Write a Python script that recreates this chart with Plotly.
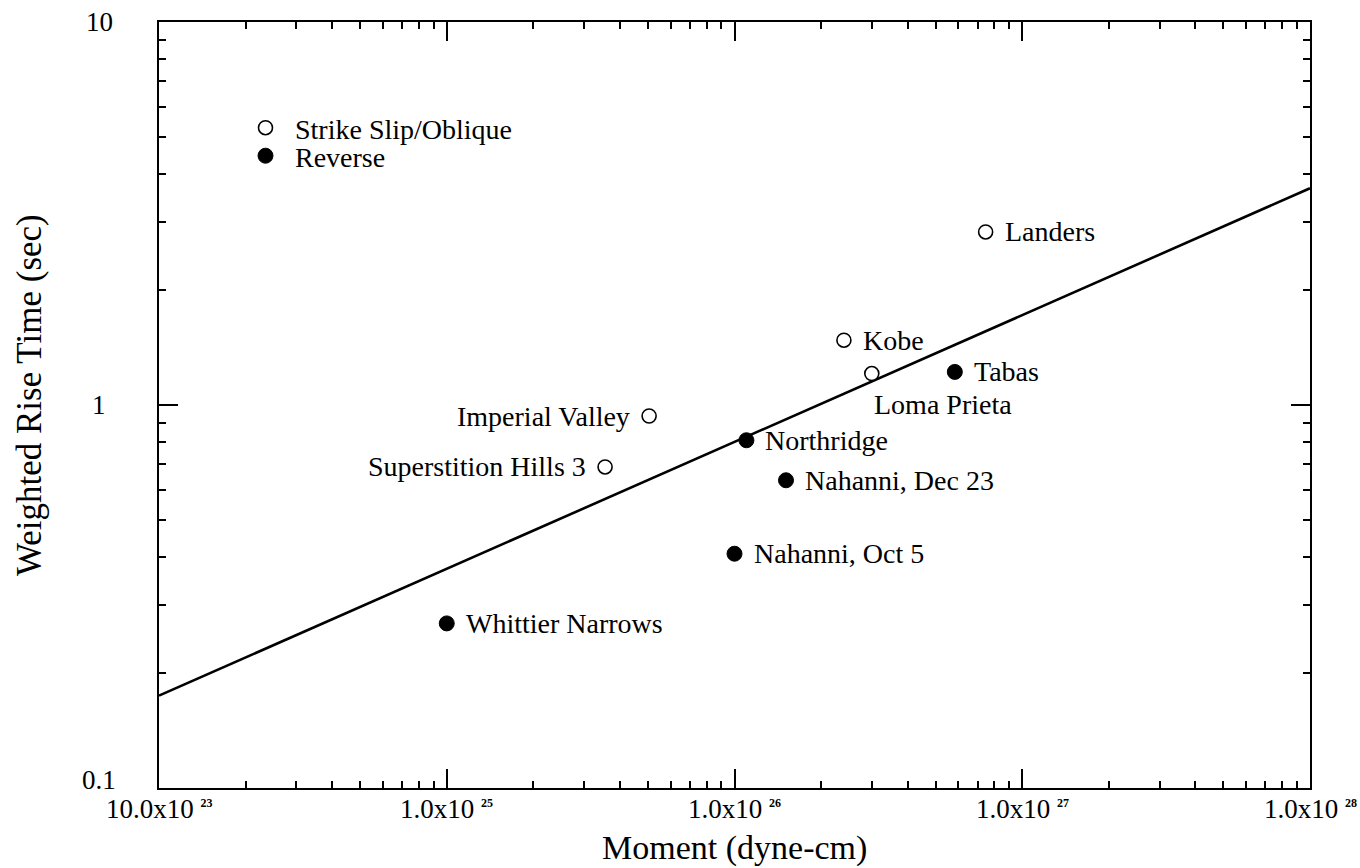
import math
import plotly.graph_objects as go

# ---------------- data ----------------
ss_names = ["Landers", "Kobe", "Loma Prieta", "Imperial Valley", "Superstition Hills 3"]
ss_moment = [7.46e26, 2.40e26, 3.0e26, 5.05e25, 3.55e25]
ss_rise = [2.83, 1.476, 1.208, 0.936, 0.689]

rev_names = ["Tabas", "Northridge", "Nahanni, Dec 23", "Nahanni, Oct 5", "Whittier Narrows"]
rev_moment = [5.83e26, 1.10e26, 1.51e26, 1.0e26, 1.0e25]
rev_rise = [1.22, 0.809, 0.636, 0.409, 0.269]

fit_moment = [1e24, 1e28]
fit_rise = [0.1743, 3.68]

x_tickvals = [1e24, 1e25, 1e26, 1e27, 1e28]
x_mant = ["10.0x10", "1.0x10", "1.0x10", "1.0x10", "1.0x10"]
x_exp = ["23", "25", "26", "27", "28"]
y_tickvals = [0.1, 1, 10]
y_ticktext = ["0.1", "1", "10"]

legend_names = ["Strike Slip/Oblique", "Reverse"]
x_title = "Moment (dyne-cm)"
y_title = "Weighted Rise Time (sec)"

# label placement (style, not data)
label_place = {
    "Landers": "right", "Kobe": "right", "Loma Prieta": "below",
    "Imperial Valley": "left", "Superstition Hills 3": "left",
    "Tabas": "right", "Northridge": "right", "Nahanni, Dec 23": "right",
    "Nahanni, Oct 5": "right", "Whittier Narrows": "right",
}

FONT = "Liberation Serif"
W, H = 1360, 868
L, R, T, B = 159, 50, 22, 80
pw = W - L - R
ph = H - T - B

x_minor = [float(m) * 10.0 ** k for k in range(24, 28) for m in range(2, 10)]
y_minor = [float(m) * 10.0 ** k for k in (-1, 0) for m in range(2, 10)]

fig = go.Figure()

fig.add_trace(go.Scatter(
    x=fit_moment, y=fit_rise, mode="lines",
    line=dict(color="black", width=2.6), showlegend=False, hoverinfo="skip"))

fig.add_trace(go.Scatter(
    x=ss_moment, y=ss_rise, mode="markers", name=legend_names[0],
    marker=dict(symbol="circle", size=14, color="white",
                line=dict(color="black", width=1.6)),
    legend="legend"))
fig.add_trace(go.Scatter(
    x=rev_moment, y=rev_rise, mode="markers", name=legend_names[1],
    marker=dict(symbol="circle", size=15, color="black",
                line=dict(color="black", width=1)),
    legend="legend2"))

LBL = 28
annotations = []
for names, xs, ys in ((ss_names, ss_moment, ss_rise), (rev_names, rev_moment, rev_rise)):
    for n, xv, yv in zip(names, xs, ys):
        side = label_place[n]
        a = dict(x=math.log10(xv), y=math.log10(yv), xref="x", yref="y", text=n,
                 showarrow=False, font=dict(family=FONT, size=LBL, color="black"),
                 yanchor="middle")
        if side == "right":
            a.update(xanchor="left", xshift=17)
        elif side == "left":
            a.update(xanchor="right", xshift=-17)
        else:
            a.update(xanchor="left", xshift=0, yshift=-31)
        annotations.append(a)

# y tick labels (centered as in reference)
for v, t in zip(y_tickvals, y_ticktext):
    annotations.append(dict(x=-(L - 99) / pw, xref="paper", y=math.log10(v), yref="y",
                            text=t, showarrow=False, xanchor="center", yanchor="middle",
                            yshift=(8 if v == 0.1 else 0),
                            font=dict(family=FONT, size=27, color="black")))

# x tick labels
for v, m, e in zip(x_tickvals, x_mant, x_exp):
    annotations.append(dict(x=math.log10(v), xref="x", y=-(809 - (H - B)) / ph, yref="paper",
                            text=f"{m} <sup><span style='font-size:12px'><b>{e}</b></span></sup>",
                            showarrow=False, xanchor="center", yanchor="middle",
                            font=dict(family=FONT, size=27, color="black")))

# axis titles
annotations.append(dict(x=0.5, xref="paper", y=-(848 - (H - B)) / ph, yref="paper",
                        text=x_title, showarrow=False, xanchor="center", yanchor="middle",
                        font=dict(family=FONT, size=34, color="black")))
annotations.append(dict(x=-(L - 29) / pw, xref="paper", y=1 - (395 - T) / ph, yref="paper",
                        text=y_title, showarrow=False, xanchor="center", yanchor="middle",
                        textangle=-90, font=dict(family=FONT, size=35, color="black")))

axis_common = dict(showgrid=False, zeroline=False, showline=True, linecolor="black",
                   linewidth=2, mirror="ticks", ticks="inside", tickcolor="black",
                   tickwidth=1.8, ticklen=19, showticklabels=False)

fig.update_xaxes(type="log", range=[24, 28], tickmode="array", tickvals=x_tickvals,
                 minor=dict(tickmode="array", tickvals=x_minor, ticks="inside", ticklen=7,
                            tickwidth=1.6, tickcolor="black"),
                 **axis_common)
fig.update_yaxes(type="log", range=[-1, 1], tickmode="array", tickvals=y_tickvals,
                 minor=dict(tickmode="array", tickvals=y_minor, ticks="inside", ticklen=7,
                            tickwidth=1.6, tickcolor="black"),
                 **axis_common)

leg_font = dict(family=FONT, size=28, color="black")
fig.update_layout(
    width=W, height=H, margin=dict(l=L, r=R, t=T, b=B, autoexpand=False),
    paper_bgcolor="white", plot_bgcolor="white",
    annotations=annotations,
    legend=dict(x=(236 - L) / pw, y=1 - (128 - T) / ph, xanchor="left", yanchor="middle",
                font=leg_font, bgcolor="rgba(0,0,0,0)", borderwidth=0, itemwidth=49),
    legend2=dict(x=(236 - L) / pw, y=1 - (156 - T) / ph, xanchor="left", yanchor="middle",
                 font=leg_font, bgcolor="rgba(0,0,0,0)", borderwidth=0, itemwidth=49),
)

fig.write_html("out.html")
